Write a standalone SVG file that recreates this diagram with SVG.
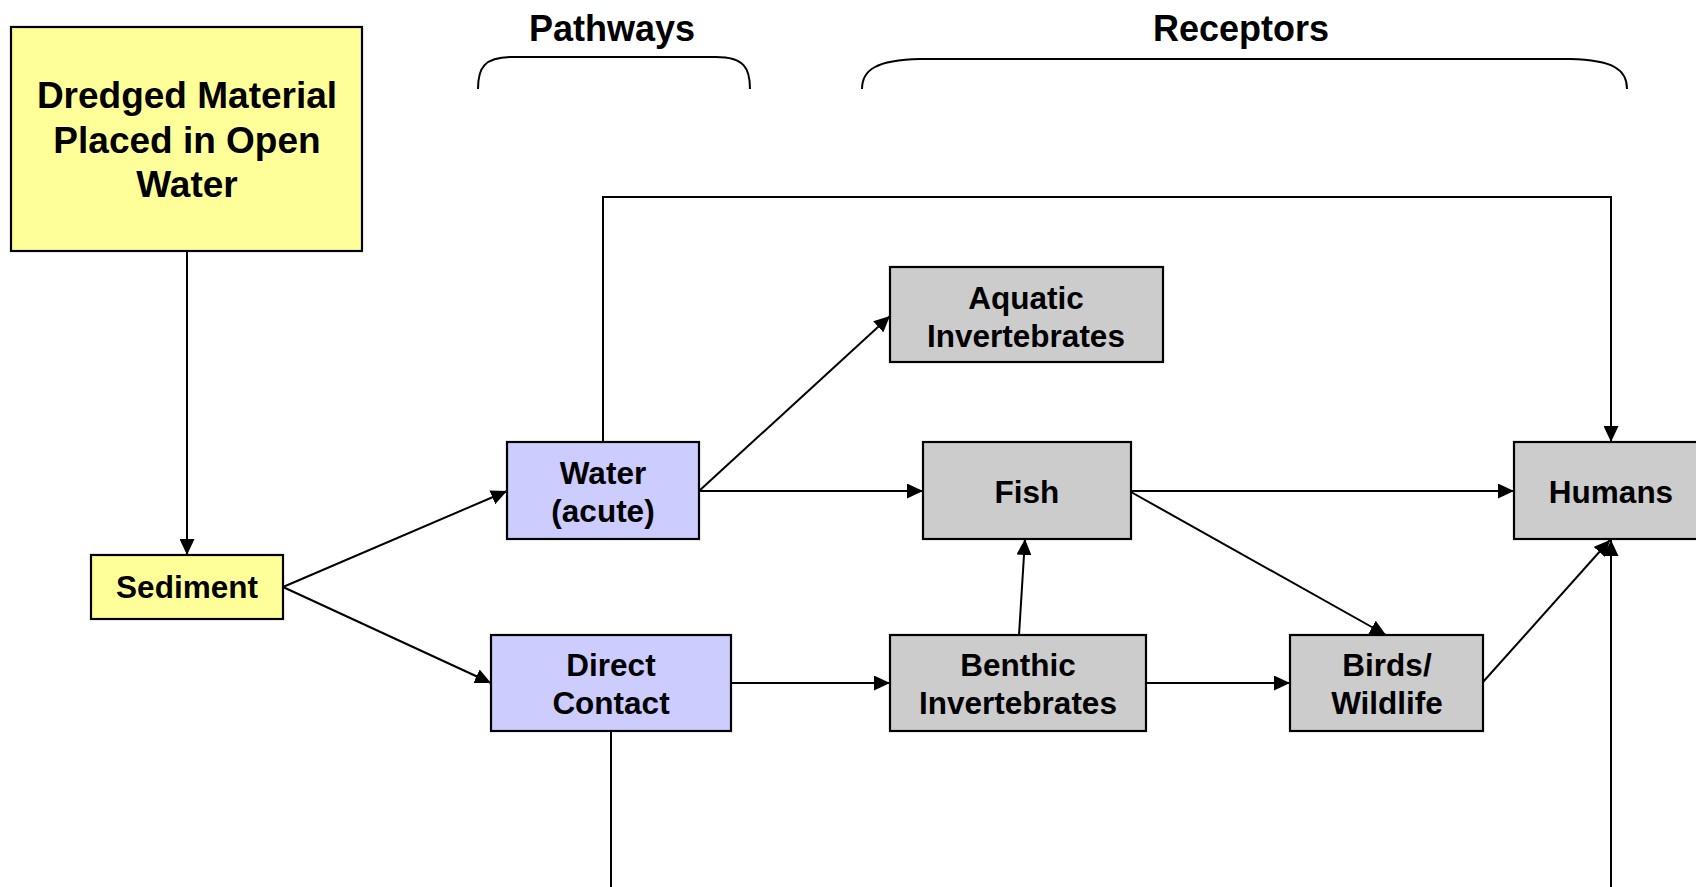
<svg xmlns="http://www.w3.org/2000/svg" width="1696" height="887" viewBox="0 0 1696 887">
<style>
.box{stroke:#000;stroke-width:2.2}
.y{fill:#FFFF99}.b{fill:#CCCCFF}.g{fill:#CCCCCC}
text{font-family:"Liberation Sans",Arial,sans-serif;font-weight:bold;fill:#000;text-anchor:middle}
.t{font-size:31.5px}
.h{font-size:36px}
.c{fill:none;stroke:#000;stroke-width:2}
.ar{marker-end:url(#ah)}
</style>
<defs>
<marker id="ah" markerUnits="userSpaceOnUse" markerWidth="16" markerHeight="15" refX="16" refY="7.5" orient="auto">
<path d="M0,0 L16,7.5 L0,15 z" fill="#000"/>
</marker>
</defs>
<rect width="1696" height="887" fill="#fff"/>
<g id="headers">
<text class="h" x="612" y="41">Pathways</text>
<path class="c" d="M478,89 C478,68 484,57 512,57 L716,57 C744,57 750,68 750,89"/>
<text class="h" x="1241" y="41">Receptors</text>
<path class="c" d="M862,89 C862,70 876,60 920,59 L1570,59 C1614,60 1627,70 1627,89"/>
</g>
<g id="connectors">
<line class="c ar" x1="187" y1="251" x2="187" y2="555"/>
<line class="c ar" x1="283" y1="587" x2="507" y2="491"/>
<line class="c ar" x1="283" y1="587" x2="491" y2="683"/>
<polyline class="c ar" points="603,442 603,197 1611,197 1611,442"/>
<line class="c ar" x1="699" y1="491" x2="890" y2="316"/>
<line class="c ar" x1="699" y1="491" x2="923" y2="491"/>
<line class="c ar" x1="1131" y1="491" x2="1514" y2="491"/>
<line class="c ar" x1="1131" y1="492" x2="1386" y2="635"/>
<line class="c ar" x1="1019" y1="635" x2="1025" y2="539"/>
<line class="c ar" x1="731" y1="683" x2="890" y2="683"/>
<line class="c ar" x1="1146" y1="683" x2="1290" y2="683"/>
<line class="c ar" x1="1483" y1="682" x2="1610" y2="540"/>
<line class="c" x1="611" y1="731" x2="611" y2="887"/>
<line class="c ar" x1="1611" y1="887" x2="1611" y2="540"/>
</g>
<g id="dredged">
<rect class="box y" x="11" y="27" width="351" height="224"/>
<text x="187" y="108" style="font-size:37px">Dredged Material</text>
<text x="187" y="153" style="font-size:37px">Placed in Open</text>
<text x="187" y="197" style="font-size:37px">Water</text>
</g>
<g id="sediment">
<rect class="box y" x="91" y="555" width="192" height="64"/>
<text class="t" x="187" y="598">Sediment</text>
</g>
<g id="water">
<rect class="box b" x="507" y="442" width="192" height="97"/>
<text class="t" x="603" y="484">Water</text>
<text class="t" x="603" y="522">(acute)</text>
</g>
<g id="direct">
<rect class="box b" x="491" y="635" width="240" height="96"/>
<text class="t" x="611" y="676">Direct</text>
<text class="t" x="611" y="714">Contact</text>
</g>
<g id="aquatic">
<rect class="box g" x="890" y="267" width="273" height="95"/>
<text class="t" x="1026" y="309">Aquatic</text>
<text class="t" x="1026" y="347">Invertebrates</text>
</g>
<g id="fish">
<rect class="box g" x="923" y="442" width="208" height="97"/>
<text class="t" x="1027" y="503">Fish</text>
</g>
<g id="benthic">
<rect class="box g" x="890" y="635" width="256" height="96"/>
<text class="t" x="1018" y="676">Benthic</text>
<text class="t" x="1018" y="714">Invertebrates</text>
</g>
<g id="birds">
<rect class="box g" x="1290" y="635" width="193" height="96"/>
<text class="t" x="1387" y="676">Birds/</text>
<text class="t" x="1387" y="714">Wildlife</text>
</g>
<g id="humans">
<rect class="box g" x="1514" y="442" width="194" height="97"/>
<text class="t" x="1611" y="503">Humans</text>
</g>
</svg>
